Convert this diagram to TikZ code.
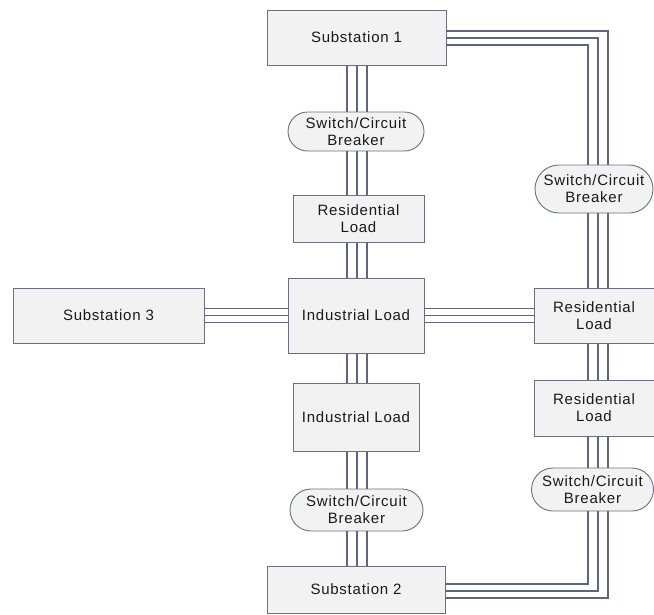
\documentclass[tikz,border=0pt]{standalone}
\usepackage{fontspec}
\setmainfont{Liberation Sans}[LetterSpace=5]
\usetikzlibrary{calc,shapes.misc}
\definecolor{boxfill}{HTML}{F2F2F2}
\definecolor{boxline}{HTML}{6A7080}
\definecolor{wirecol}{HTML}{5C6680}
\begin{document}
\begin{tikzpicture}[x=1pt,y=-1pt,
  every node/.style={font=\fontsize{15}{17}\selectfont, text=black!90, align=center, inner sep=0pt},
  unit/.style={draw=boxline, line width=0.9pt, fill=boxfill, rectangle},
  breaker/.style={draw=boxline, line width=0.9pt, fill=boxfill, rounded rectangle},
  wire/.style={draw=wirecol, line width=1.1pt}]
\useasboundingbox (0,0) rectangle (654,614);
% line columns
\coordinate (L) at (357,0);
\coordinate (R) at (598,0);

% central column
\node[unit, minimum width=179pt, minimum height=55pt] (s1) at (356.5,37.5) {Substation 1};
\node[breaker, minimum width=136pt, minimum height=39pt] (sw1) at (356,131.5) {Switch/Circuit\\Breaker};
\node[unit, minimum width=131pt, minimum height=47pt] (r1) at (358.5,218.5) {Residential\\Load};
\node[unit, minimum width=136pt, minimum height=75pt] (ind1) at (356,315.5) {Industrial Load};
\node[unit, minimum width=126pt, minimum height=68pt] (ind2) at (356,417) {Industrial Load};
\node[breaker, minimum width=133pt, minimum height=42pt] (sw3) at (356.5,510) {Switch/Circuit\\Breaker};
\node[unit, minimum width=178pt, minimum height=47pt] (s2) at (356,589.5) {Substation 2};

% left
\node[unit, minimum width=191pt, minimum height=55pt] (s3) at (108.5,315.5) {Substation 3};

% right column
\node[breaker, minimum width=118pt, minimum height=48pt] (sw2) at (594,189) {Switch/Circuit\\Breaker};
\node[unit, minimum width=120pt, minimum height=55pt] (r2) at (594,315.5) {Residential\\Load};
\node[unit, minimum width=120pt, minimum height=56pt] (r3) at (594,408) {Residential\\Load};
\node[breaker, minimum width=122pt, minimum height=43pt] (sw4) at (592.5,489.5) {Switch/Circuit\\Breaker};

% three-phase vertical runs, central column
\foreach \a/\b in {s1/sw1, sw1/r1, r1/ind1, ind1/ind2, ind2/sw3, sw3/s2}
  \foreach \d in {-10,0,10}
    \draw[wire] ($(\a.south -| L)+(\d,0)$) -- ($(\b.north -| L)+(\d,0)$);

% three-phase vertical runs, right column
\foreach \a/\b in {sw2/r2, r2/r3, r3/sw4}
  \foreach \d in {-10,0,10}
    \draw[wire] ($(\a.south -| R)+(\d,0)$) -- ($(\b.north -| R)+(\d,0)$);

% horizontal runs
\foreach \d in {-7,0,7} {
  \draw[wire] ($(s3.east)+(0,\d)$) -- ($(ind1.west)+(0,\d)$);
  \draw[wire] ($(ind1.east)+(0,\d)$) -- ($(r2.west)+(0,\d)$);
}

% Substation 1 to the right-hand breaker
\foreach \dy/\dx in {-6.5/10, 0.5/0, 7.5/-10}
  \draw[wire] ($(s1.east)+(0,\dy)$) -| ($(sw2.north -| R)+(\dx,0)$);

% Substation 2 to the right-hand breaker
\foreach \dy/\dx in {-5.5/-10, 1.5/0, 8.5/10}
  \draw[wire] ($(s2.east)+(0,\dy)$) -| ($(sw4.south -| R)+(\dx,0)$);
\end{tikzpicture}
\end{document}
